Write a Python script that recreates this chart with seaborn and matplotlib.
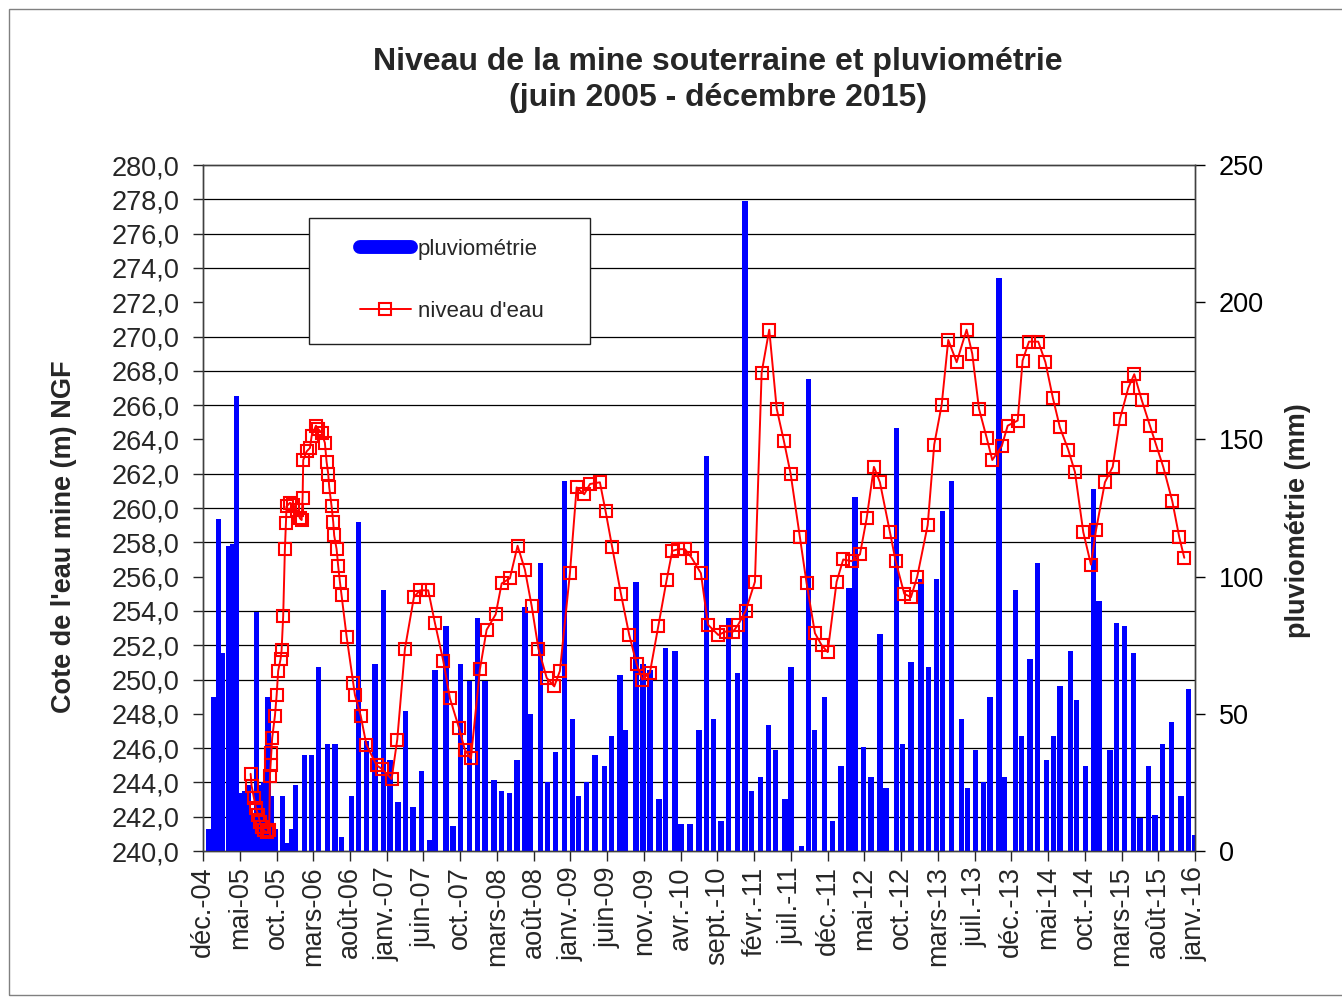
import numpy as np
import matplotlib
matplotlib.use("Agg")
import matplotlib.pyplot as plt
import seaborn as sns
from matplotlib.lines import Line2D
from matplotlib.patches import Rectangle

# rainfall (decimal year, mm)
rain_year = [2004.975, 2005.031, 2005.087, 2005.131, 2005.201, 2005.243, 2005.292, 2005.348, 2005.385, 2005.424,
             2005.463, 2005.516, 2005.556, 2005.592, 2005.642, 2005.681, 2005.721, 2005.807, 2005.851, 2005.907, 2005.950,
             2006.053, 2006.131, 2006.207, 2006.307, 2006.391, 2006.466, 2006.576, 2006.652, 2006.743, 2006.838, 2006.931,
             2007.006, 2007.098, 2007.181, 2007.266, 2007.360, 2007.445, 2007.509, 2007.632, 2007.713, 2007.796, 2007.892, 2007.986,
             2008.068, 2008.169, 2008.255, 2008.340, 2008.426, 2008.515, 2008.571, 2008.689, 2008.769, 2008.859, 2008.955,
             2009.044, 2009.111, 2009.205, 2009.297, 2009.401, 2009.484, 2009.577, 2009.641, 2009.756, 2009.834, 2009.912,
             2010.013, 2010.088, 2010.192, 2010.259, 2010.360, 2010.461, 2010.547, 2010.620, 2010.706, 2010.788, 2010.889, 2010.975,
             2011.049, 2011.150, 2011.235, 2011.317, 2011.421, 2011.488, 2011.608, 2011.682, 2011.749, 2011.861, 2011.950,
             2012.047, 2012.136, 2012.203, 2012.296, 2012.382, 2012.483, 2012.550, 2012.670, 2012.737, 2012.829, 2012.941,
             2013.023, 2013.117, 2013.184, 2013.285, 2013.397, 2013.459, 2013.553, 2013.638, 2013.713, 2013.814, 2013.873,
             2014.000, 2014.067, 2014.160, 2014.246, 2014.347, 2014.420, 2014.495, 2014.615, 2014.682, 2014.783, 2014.867, 2014.931,
             2015.055, 2015.130, 2015.215, 2015.315, 2015.390, 2015.483, 2015.558, 2015.639, 2015.744, 2015.848, 2015.930, 2015.997]
rain_mm = [8, 56, 121, 72, 111, 112, 166, 21, 22, 24,
           14, 87, 24, 25, 56, 20, 8, 20, 3, 8, 24,
           35, 35, 67, 39, 39, 5, 20, 120, 40, 68, 95,
           33, 18, 51, 16, 29, 4, 66, 82, 9, 68, 62, 85,
           62, 26, 22, 21, 33, 89, 50, 105, 25, 36, 135,
           48, 20, 25, 35, 31, 42, 64, 44, 98, 68, 66,
           19, 74, 73, 10, 10, 44, 144, 48, 11, 85, 65, 237,
           22, 27, 46, 37, 19, 67, 2, 172, 44, 56, 11,
           31, 96, 129, 38, 27, 79, 23, 154, 39, 69, 99,
           67, 99, 124, 135, 48, 23, 37, 25, 56, 209, 27,
           95, 42, 70, 105, 33, 42, 60, 73, 55, 31, 132, 91,
           37, 83, 82, 72, 12, 31, 13, 39, 47, 20, 59, 6]

# water level in the mine (decimal year, m NGF)
level_year = [2005.449, 2005.460, 2005.486, 2005.508, 2005.534, 2005.553, 2005.572, 2005.598, 2005.628, 2005.657,
              2005.665, 2005.672, 2005.679, 2005.690, 2005.721, 2005.740, 2005.757, 2005.784, 2005.795, 2005.813,
              2005.832, 2005.843, 2005.851, 2005.888, 2005.925, 2005.963,
              2006.000, 2006.019, 2006.030, 2006.037, 2006.075, 2006.112, 2006.131, 2006.179, 2006.205, 2006.243,
              2006.279, 2006.298, 2006.316, 2006.328, 2006.354, 2006.372, 2006.383, 2006.410, 2006.428, 2006.447,
              2006.466, 2006.522, 2006.596, 2006.615, 2006.679, 2006.743, 2006.857, 2006.913,
              2007.025, 2007.088, 2007.174, 2007.274, 2007.341, 2007.434, 2007.509, 2007.602, 2007.677, 2007.777, 2007.844, 2007.911,
              2008.012, 2008.087, 2008.188, 2008.255, 2008.347, 2008.433, 2008.515, 2008.590, 2008.666, 2008.758, 2008.843, 2008.906,
              2009.018, 2009.093, 2009.178, 2009.242, 2009.353, 2009.417, 2009.491, 2009.588, 2009.681, 2009.764, 2009.826, 2009.912,
              2010.005, 2010.099, 2010.162, 2010.229, 2010.304, 2010.378, 2010.482, 2010.561, 2010.676, 2010.759, 2010.843, 2010.899, 2010.982,
              2011.086, 2011.161, 2011.246, 2011.329, 2011.410, 2011.485, 2011.589, 2011.664, 2011.757, 2011.832, 2011.899, 2011.999,
              2012.073, 2012.167, 2012.260, 2012.335, 2012.416, 2012.483, 2012.595, 2012.659, 2012.755, 2012.830, 2012.900,
              2013.017, 2013.090, 2013.173, 2013.247, 2013.341, 2013.452, 2013.515, 2013.590, 2013.676, 2013.739, 2013.844, 2013.911,
              2014.023, 2014.078, 2014.149, 2014.253, 2014.333, 2014.417, 2014.495, 2014.588, 2014.663, 2014.756, 2014.842, 2014.898, 2014.998,
              2015.085, 2015.166, 2015.259, 2015.326, 2015.409, 2015.501, 2015.569, 2015.650, 2015.751, 2015.829, 2015.885]
level_m = [244.5, 243.8, 243.1, 242.5, 242.1, 241.7, 241.4, 241.2, 241.1, 241.2,
           244.4, 245.0, 245.7, 246.6, 247.9, 249.1, 250.5, 251.2, 251.7, 253.7,
           257.6, 259.1, 260.1, 260.3, 260.2, 259.9,
           259.4, 259.3, 260.6, 262.8, 263.3, 263.5, 264.2, 264.8, 264.6, 264.4,
           263.8, 262.7, 262.0, 261.2, 260.1, 259.2, 258.4, 257.6, 256.6, 255.7,
           254.9, 252.5, 249.8, 249.1, 247.9, 246.2, 245.0, 244.8,
           244.2, 246.5, 251.8, 254.8, 255.2, 255.2, 253.3, 251.1, 248.9, 247.2, 245.9, 245.4,
           250.6, 252.9, 253.8, 255.6, 255.9, 257.8, 256.4, 254.3, 251.8, 250.1, 249.6, 250.5,
           256.2, 261.2, 260.8, 261.4, 261.5, 259.8, 257.7, 255.0, 252.6, 250.9, 250.0, 250.4,
           253.1, 255.8, 257.5, 257.6, 257.6, 257.1, 256.2, 253.2, 252.6, 252.8, 252.8, 253.2, 254.0,
           255.7, 267.9, 270.4, 265.8, 263.9, 262.0, 258.3, 255.6, 252.7, 252.0, 251.6, 255.7,
           257.0, 256.9, 257.3, 259.4, 262.4, 261.5, 258.6, 256.9, 255.0, 254.8, 256.0,
           259.0, 263.7, 266.0, 269.8, 268.5, 270.4, 269.0, 265.8, 264.1, 262.8, 263.6, 264.8,
           265.1, 268.6, 269.7, 269.7, 268.5, 266.4, 264.7, 263.4, 262.1, 258.6, 256.7, 258.7, 261.5,
           262.4, 265.2, 267.0, 267.8, 266.3, 264.8, 263.7, 262.4, 260.4, 258.3, 257.1]

# date axis: one label every 150 days from 1 Dec 2004
x_labels = ['déc.-04', 'mai-05', 'oct.-05', 'mars-06', 'août-06', 'janv.-07', 'juin-07', 'oct.-07',
            'mars-08', 'août-08', 'janv.-09', 'juin-09', 'nov.-09', 'avr.-10', 'sept.-10', 'févr.-11',
            'juil.-11', 'déc.-11', 'mai-12', 'oct.-12', 'mars-13', 'juil.-13', 'déc.-13', 'mai-14',
            'oct.-14', 'mars-15', 'août-15', 'janv.-16']
x_start = 2004 + 335 / 365.25
x_step = 150 / 365.25
x_ticks = x_start + x_step * np.arange(len(x_labels))

sns.set_style("ticks")
plt.rcParams['font.family'] = ['Liberation Sans', 'DejaVu Sans']

fig = plt.figure(figsize=(13.42, 9.97), dpi=100)
ax1 = fig.add_axes([0.1513, 0.1464, 0.7392, 0.6881])
ax2 = ax1.twinx()
ax1.set_zorder(2)
ax2.set_zorder(1)
ax1.patch.set_visible(False)

# rainfall bars on the right axis, behind the level curve
ax2.bar(rain_year, rain_mm, width=0.06, color='#0000ff', linewidth=0, zorder=3)
ax2.set_ylim(0, 250)
ax2.set_yticks(range(0, 251, 50))
ax2.set_yticks(np.linspace(0, 250, 21), minor=True)
ax2.grid(which='minor', axis='y', color='#000000', linewidth=0.9)
ax2.set_axisbelow(True)
ax2.tick_params(which='minor', length=0)
ax2.tick_params(axis='y', which='major', direction='out', length=7, width=1, pad=10,
                labelsize=19.5, colors='black')

# water level curve
sns.lineplot(x=level_year, y=level_m, ax=ax1, sort=False, estimator=None, color='red',
             marker='s', markersize=9, markerfacecolor='none', markeredgecolor='red',
             markeredgewidth=1.5, linewidth=1.4)

ax1.set_xlim(x_ticks[0], x_ticks[-1])
ax1.set_ylim(240, 280)
yt = np.arange(240, 280.1, 2)
ax1.set_yticks(yt)
ax1.set_yticklabels([f"{v:.1f}".replace('.', ',') for v in yt])
ax1.set_xticks(x_ticks)
ax1.set_xticklabels(x_labels, rotation=90)
ax1.set_xlabel('')
ax1.set_ylabel('')
ax1.tick_params(axis='y', direction='out', length=7, width=1, pad=10, labelsize=19.5)
ax1.tick_params(axis='x', direction='out', length=7, width=1, pad=4, labelsize=19.5)

for ax in (ax1, ax2):
    for s in ax.spines.values():
        s.set_visible(True)
        s.set_color('#404040')
        s.set_linewidth(1)

# legend box
ax1.add_patch(Rectangle((0.107, 0.739), 0.283, 0.184, transform=ax1.transAxes,
                        facecolor='white', edgecolor='#202020', linewidth=1, zorder=4))
handles = [Line2D([0], [0], color='#0000ff', lw=10, solid_capstyle='round'),
           Line2D([0], [0], color='red', lw=1.4, marker='s', markersize=9,
                  markerfacecolor='none', markeredgewidth=1.5)]
leg = ax1.legend(handles, ['pluviométrie', "niveau d'eau"], loc='center left',
                 bbox_to_anchor=(0.158, 0.8316), frameon=False, fontsize=16,
                 handlelength=2.3, handletextpad=0.3, labelspacing=1.85,
                 borderpad=0, borderaxespad=0)
leg.set_zorder(5)
for t in leg.get_texts():
    t.set_color('#262626')

fig.text(0.535, 1 - 62 / 997, 'Niveau de la mine souterraine et pluviométrie',
         ha='center', va='center', fontsize=23, fontweight='bold')
fig.text(0.535, 1 - 98 / 997, '(juin 2005 - décembre 2015)',
         ha='center', va='center', fontsize=23, fontweight='bold')
fig.text(0.048, 0.462, "Cote de l'eau mine (m) NGF", rotation=90, ha='center', va='center',
         fontsize=19.5, fontweight='bold')
fig.text(0.967, 0.478, 'pluviométrie (mm)', rotation=90, ha='center', va='center',
         fontsize=19.5, fontweight='bold')

fig.add_artist(Rectangle((9 / 1342, 2 / 997), 1.2, 986 / 997, transform=fig.transFigure,
                         fill=False, edgecolor='#808080', linewidth=1))

fig.savefig('out.png', dpi=100)
